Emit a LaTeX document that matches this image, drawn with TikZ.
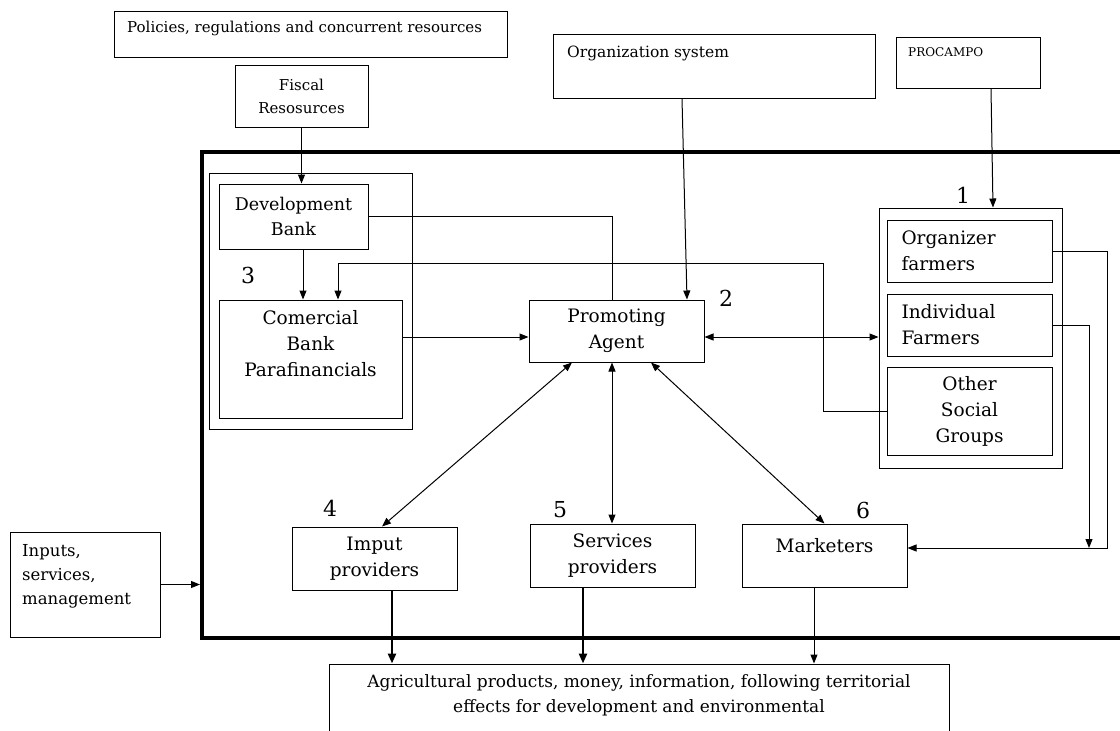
\documentclass[tikz,border=0pt]{standalone}
\usepackage{fontspec}
\setmainfont{DejaVu Serif}
\usetikzlibrary{arrows.meta,positioning,calc}
\newcommand\bodyfont{\fontsize{18.5}{26}\selectfont}
\newcommand\headfont{\fontsize{15}{23}\selectfont}

\begin{document}
\begin{tikzpicture}[x=1pt,y=-1pt]
\tikzstyle{every node}+=[inner sep=0pt]
\tikzstyle{box}=[draw, line width=1pt, align=center, font=\bodyfont]
\tikzstyle{txt}=[anchor=west, align=left, font=\headfont]
\tikzstyle{ctxt}=[align=center, font=\bodyfont]
\tikzstyle{num}=[font=\fontsize{22}{22}\selectfont]
\tikzstyle{link}=[line width=1pt, -{Triangle[length=9pt,width=7pt]}]
\tikzstyle{both}=[line width=1pt, {Triangle[length=9pt,width=7pt]}-{Triangle[length=9pt,width=7pt]}]
\tikzstyle{heavy}=[line width=2.5pt, -{Triangle[length=10pt,width=8pt]}]
\useasboundingbox (0,0) rectangle (1120,731);
\node[draw, line width=4pt, minimum width=928pt, minimum height=486pt] (frame) at (666,395) {};
\node[box, minimum width=393pt, minimum height=46pt] (policies) at (310.5,34) {};
\node[txt] at (127,28) {Policies, regulations and concurrent resources};
\node[box, font=\headfont, minimum width=133pt, minimum height=62pt] (fiscal) at (301.5,96) {Fiscal\\Resosurces};
\node[box, minimum width=322pt, minimum height=64pt] (org) at (714,66) {};
\node[txt, font=\fontsize{15.5}{23}\selectfont] at (567,53) {Organization system};
\node[box, minimum width=144pt, minimum height=51pt] (procampo) at (968,62.5) {};
\node[txt, font=\fontsize{12}{14}\selectfont] at (908,52) {PROCAMPO};
\node[box, minimum width=203pt, minimum height=256pt] (bankgroup) at (310.5,301) {};
\node[box, font=\fontsize{17.5}{25}\selectfont, minimum width=149pt, minimum height=65pt] (devbank) at (293.5,216.5) {Development\\Bank};
\node[box, minimum width=183pt, minimum height=118pt] (combank) at (310.5,359) {};
\node[ctxt, anchor=north] at (310.5,310) {Comercial\\Bank\\Parafinancials};
\node[box, minimum width=175pt, minimum height=62pt] (promo) at (616.5,331) {Promoting\\Agent};
\node[box, minimum width=183pt, minimum height=260pt] (farmgroup) at (970.5,338) {};
\node[box, minimum width=165pt, minimum height=62pt, text width=136pt, align=left] (orgfarm) at (969.5,251) {Organizer\\farmers};
\node[box, minimum width=165pt, minimum height=62pt, text width=136pt, align=left] (indfarm) at (969.5,325) {Individual\\Farmers};
\node[box, minimum width=165pt, minimum height=88pt] (social) at (969.5,411) {Other\\Social\\Groups};
\node[box, minimum width=150pt, minimum height=105pt] (inputs) at (85,584.5) {};
\node[txt, font=\fontsize{16.5}{24}\selectfont] at (22,576) {Inputs,\\services,\\management};
\node[box, minimum width=165pt, minimum height=63pt] (imput) at (374.5,558.5) {Imput\\providers};
\node[box, minimum width=165pt, minimum height=63pt] (services) at (612.5,555.5) {Services\\providers};
\node[box, minimum width=165pt, minimum height=63pt] (market) at (824.5,555.5) {};
\node[ctxt] at (824.5,546) {Marketers};
\node[box, minimum width=620pt, minimum height=82pt] (output) at (639,705) {};
\node[ctxt, font=\fontsize{17}{25}\selectfont] at (639,695.5) {Agricultural products, money, information, following territorial\\effects for development and environmental};
\node[num] at (963,195) {1};
\node[num] at (726,298) {2};
\node[num] at (248,275) {3};
\node[num] at (330,508) {4};
\node[num] at (560,510) {5};
\node[num] at (863,510) {6};
\draw[link] (fiscal.south) -- (fiscal.south |- devbank.north);
\draw[link] ([xshift=9.5pt]devbank.south) -- ([xshift=9.5pt]devbank.south |- combank.north);
\draw[line width=1pt] (devbank.east) -| ([xshift=-4.5pt]promo.north);
\draw[link] ([xshift=-32pt]org.south) -- ([xshift=70.5pt]promo.north);
\draw[link] ([xshift=23pt]procampo.south) -- ([xshift=22.5pt]farmgroup.north);
\draw[link] (social.west) -| (823,263) -| ([xshift=27.5pt]combank.north);
\draw[link] ([yshift=-6pt]promo.west -| combank.east) -- ([yshift=-6pt]promo.west);
\draw[both] ([yshift=-6pt]promo.east) -- ([yshift=-6pt]promo.east -| farmgroup.west);
\draw[link] (orgfarm.east) -| (1107,548) -- ([yshift=7.5pt]market.east);
\draw[link] (indfarm.east) -| (1089,548);
\draw[both] ([xshift=-44.5pt]promo.south) -- ([xshift=7.5pt]imput.north);
\draw[both] ([xshift=-4.5pt]promo.south) -- ([xshift=-4.5pt]promo.south |- services.north);
\draw[both] ([xshift=34.5pt]promo.south) -- (market.north);
\draw[link] (inputs.east) -- (inputs.east -| frame.west);
\draw[heavy] ([xshift=17.5pt]imput.south) -- ([xshift=17.5pt]imput.south |- output.north);
\draw[heavy] ([xshift=-29.5pt]services.south) -- ([xshift=-29.5pt]services.south |- output.north);
\draw[link] ([xshift=-10.5pt]market.south) -- ([xshift=-10.5pt]market.south |- output.north);
\end{tikzpicture}
\end{document}
